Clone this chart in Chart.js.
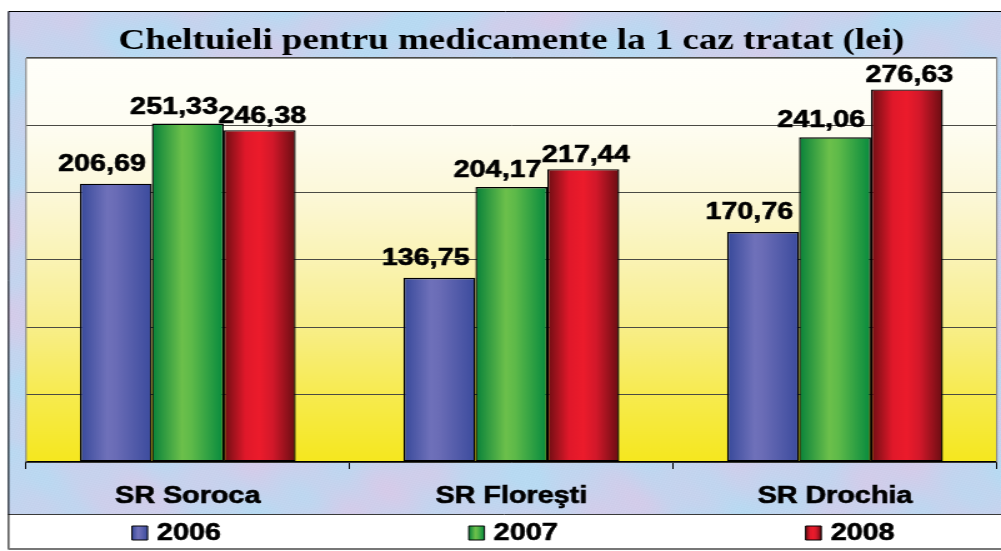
<!DOCTYPE html>
<html><head><meta charset="utf-8">
<script src="https://cdn.jsdelivr.net/npm/chart.js@4.4.0/dist/chart.umd.min.js"></script>
<style>
html,body{margin:0;padding:0;background:#fff;overflow:hidden;}
#wrap{width:801px;height:551px;transform:scaleX(1.2497);transform-origin:0 0;}
canvas{display:block;}
</style></head><body>
<div id="wrap"><canvas id="c" width="801" height="551"></canvas></div>
<script>
// ---- data ----
const categories = ['SR Soroca', 'SR Floreşti', 'SR Drochia'];
const seriesNames = ['2006', '2007', '2008'];
const values2006 = [206.69, 136.75, 170.76];
const values2007 = [251.33, 204.17, 241.06];
const values2008 = [246.38, 217.44, 276.63];
const yMin = 0, yMax = 300, yStep = 50;
const titleText = 'Cheltuieli pentru medicamente la 1 caz tratat (lei)';

// ---- styles ----
const CAT_PCT = 0.667;
const gradStops = [
  [[0,'#37499a'],[0.38,'#6f71ba'],[0.5,'#6a6cb6'],[1,'#3b4b9d']],
  [[0,'#07813a'],[0.42,'#6cc04b'],[0.55,'#5eba49'],[1,'#068a3e']],
  [[0,'#6c0e13'],[0.3,'#e0182a'],[0.5,'#ec1b2b'],[0.68,'#d2182a'],[1,'#680d12']]
];
const labelDx = [-11, -11, 2];
const labelGap = [13, 10, 7];
const SANS = '"Liberation Sans", Arial, sans-serif';

function makeGrad(ctx, left, width, stops) {
  const g = ctx.createLinearGradient(left, 0, left + width, 0);
  stops.forEach(s => g.addColorStop(s[0], s[1]));
  return g;
}
function barBg(context) {
  const stops = gradStops[context.datasetIndex];
  const chart = context.chart;
  const xs = chart.scales && chart.scales.x;
  if (context.dataIndex === undefined || !xs || !chart.chartArea) return stops[1][1];
  const n = chart.data.labels.length;
  const catW = (xs.right - xs.left) / n;
  const grpW = catW * CAT_PCT;
  const bw = grpW / chart.data.datasets.length;
  const cx = xs.getPixelForValue(context.dataIndex);
  const left = cx - grpW / 2 + context.datasetIndex * bw;
  return makeGrad(chart.ctx, left, bw, stops);
}

function makeTexture(w, h) {
  const c = document.createElement('canvas'); c.width = w; c.height = h;
  const g = c.getContext('2d');
  const img = g.createImageData(w, h);
  const d = img.data;
  for (let y = 0; y < h; y++) {
    for (let x = 0; x < w; x++) {
      const a = Math.sin(x * 0.031 + 1.8 * Math.sin(y * 0.023)) * Math.sin(y * 0.041 + 1.4 * Math.sin(x * 0.017 + 1.3));
      const b = Math.sin(x * 0.083 + y * 0.052 + 1.5 * Math.sin(y * 0.07)) * Math.sin(x * 0.047 - y * 0.066 + 0.7);
      let t = 0.32 + 0.3 * a + 0.12 * b;
      t = Math.max(0, Math.min(1, t));
      const fine = Math.sin(x * 1.7 + y * 2.3) * Math.sin(x * 0.9 - y * 1.1) * 3;
      const i = (y * w + x) * 4;
      d[i] = 184 + 40 * t + fine;
      d[i + 1] = 218 - 20 * t + fine;
      d[i + 2] = 242 - 12 * t + fine;
      d[i + 3] = 255;
    }
  }
  g.putImageData(img, 0, 0);
  return c;
}
const texture = makeTexture(801, 551);

const frame = { left: 6.4, top: 11, right: 815, bottom: 549, legendTop: 514 };

function boldText(ctx, txt, x, y) {
  ctx.fillText(txt, x, y);
  ctx.strokeText(txt, x, y);
}

const decorPlugin = {
  id: 'decor',
  beforeDraw(chart) {
    const ctx = chart.ctx, a = chart.chartArea;
    ctx.save();
    ctx.fillStyle = '#fff';
    ctx.fillRect(0, 0, chart.width, chart.height);
    ctx.drawImage(texture, frame.left, frame.top, chart.width - frame.left, frame.legendTop - frame.top,
                  frame.left, frame.top, chart.width - frame.left, frame.legendTop - frame.top);
    ctx.fillStyle = '#fff';
    ctx.fillRect(frame.left, frame.legendTop, chart.width, frame.bottom - frame.legendTop);
    const g = ctx.createLinearGradient(0, a.top, 0, a.bottom);
    g.addColorStop(0, '#fffffa'); g.addColorStop(0.17, '#fefdf2'); g.addColorStop(0.33, '#fcf8da');
    g.addColorStop(0.5, '#faf3b4'); g.addColorStop(0.67, '#f8ee88'); g.addColorStop(0.83, '#f7eb50');
    g.addColorStop(1, '#f5e71e');
    ctx.fillStyle = g;
    ctx.fillRect(a.left, a.top, a.right - a.left, a.bottom - a.top);
    ctx.restore();
  },
  afterDraw(chart) {
    const ctx = chart.ctx, a = chart.chartArea;
    ctx.save();
    // plot border
    ctx.strokeStyle = '#8a8a8a'; ctx.lineWidth = 1.2;
    ctx.beginPath();
    ctx.moveTo(a.left, a.bottom); ctx.lineTo(a.left, a.top + 0.5); ctx.lineTo(a.right, a.top + 0.5); ctx.lineTo(a.right, a.bottom);
    ctx.stroke();
    // legend top line
    ctx.strokeStyle = '#3a3a3a'; ctx.lineWidth = 1;
    ctx.beginPath(); ctx.moveTo(frame.left, frame.legendTop + 0.5); ctx.lineTo(chart.width, frame.legendTop + 0.5); ctx.stroke();
    // outer frame
    ctx.strokeStyle = '#000'; ctx.lineWidth = 1;
    ctx.beginPath();
    ctx.moveTo(chart.width + 2, frame.top + 0.5); ctx.lineTo(frame.left + 0.5, frame.top + 0.5);
    ctx.lineTo(frame.left + 0.5, frame.bottom); ctx.stroke();
    ctx.strokeStyle = '#777'; ctx.lineWidth = 2;
    ctx.beginPath(); ctx.moveTo(frame.left, frame.bottom); ctx.lineTo(chart.width, frame.bottom); ctx.stroke();

    // data labels
    ctx.fillStyle = '#000';
    ctx.strokeStyle = '#000'; ctx.lineWidth = 0.6; ctx.lineJoin = 'round';
    ctx.font = 'bold 23px ' + SANS;
    ctx.textAlign = 'center'; ctx.textBaseline = 'alphabetic';
    chart.data.datasets.forEach((ds, di) => {
      const meta = chart.getDatasetMeta(di);
      meta.data.forEach((el, i) => {
        const txt = ds.data[i].toFixed(2).replace('.', ',');
        boldText(ctx, txt, el.x + labelDx[di], el.y - labelGap[di]);
      });
    });

    // legend
    const n = chart.data.datasets.length;
    const colW = (frame.right - frame.left) / n;
    const ly = 533.5;
    chart.data.datasets.forEach((ds, di) => {
      ctx.font = 'bold 23px ' + SANS;
      const tw = ctx.measureText(ds.label).width;
      const bw = 12.5, gap = 7.5;
      const cx = frame.left + colW * (di + 0.5);
      const x0 = cx - (bw + gap + tw) / 2;
      ctx.fillStyle = makeGrad(ctx, x0, bw, gradStops[di]);
      ctx.fillRect(x0, ly - 7.5, bw, 14);
      ctx.strokeStyle = '#000'; ctx.lineWidth = 1;
      ctx.strokeRect(x0, ly - 7.5, bw, 14);
      ctx.fillStyle = '#000'; ctx.lineWidth = 0.6;
      ctx.textAlign = 'left'; ctx.textBaseline = 'middle';
      boldText(ctx, ds.label, x0 + bw + gap, ly);
    });
    ctx.restore();
  }
};

const allValues = [values2006, values2007, values2008];
new Chart(document.getElementById('c'), {
  type: 'bar',
  data: {
    labels: categories,
    datasets: seriesNames.map((name, i) => ({
      label: name,
      data: allValues[i],
      backgroundColor: barBg,
      borderColor: '#000',
      borderWidth: 1.4,
      borderSkipped: false,
      categoryPercentage: CAT_PCT,
      barPercentage: 1.0
    }))
  },
  options: {
    responsive: false,
    animation: false,
    devicePixelRatio: 1,
    layout: { padding: { left: 20.8, right: 3.4, top: 24, bottom: 37 } },
    plugins: {
      legend: { display: false },
      tooltip: { enabled: false },
      title: {
        display: true,
        text: titleText,
        color: '#000',
        font: { family: '"Liberation Serif", "Times New Roman", serif', size: 29.6, weight: 'bold', lineHeight: 1.1486 },
        padding: { top: 0, bottom: 0 }
      }
    },
    scales: {
      x: {
        offset: true,
        grid: { display: true, drawOnChartArea: false, drawTicks: true, tickLength: 7, color: '#000', lineWidth: 1, offset: true },
        border: { display: true, color: '#000', width: 1.2 },
        ticks: { color: '#000', font: { family: SANS, size: 23, weight: 'bold' }, padding: 14, maxRotation: 0,
                 textStrokeColor: '#000', textStrokeWidth: 0.6 },
        afterFit: s => { s.height = 52; }
      },
      y: {
        min: yMin, max: yMax,
        ticks: { stepSize: yStep, display: false },
        grid: { color: '#4a4a44', lineWidth: 1, drawTicks: false },
        border: { display: false }
      }
    }
  },
  plugins: [decorPlugin]
});
</script>
</body></html>
